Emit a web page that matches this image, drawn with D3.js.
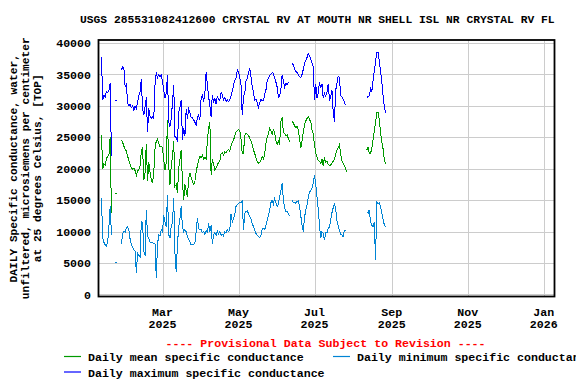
<!DOCTYPE html>
<html>
<head>
<meta charset="utf-8">
<script src="https://cdn.jsdelivr.net/npm/d3@7"></script>
<style>
  html, body { margin: 0; padding: 0; background: #fff; }
</style>
</head>
<body>
<div id="chart"></div>
<script>
// USGS daily specific conductance, Crystal River at mouth (provisional)

const TITLE = "USGS 285531082412600 CRYSTAL RV AT MOUTH NR SHELL ISL NR CRYSTAL RV FL";
const Y_LABEL = [
  "DAILY Specific conductance, water,",
  "unfiltered, microsiemens per centimeter",
  "at 25 degrees Celsius, [TOP]"
];
const Y_TICKS = [0, 5000, 10000, 15000, 20000, 25000, 30000, 35000, 40000];
const X_TICKS = ["2025-03-01", "2025-05-01", "2025-07-01", "2025-09-01", "2025-11-01", "2026-01-01"];
const X_DOMAIN = ["2025-01-08T15:00Z", "2026-01-09T15:00Z"];
const NOTE = "---- Provisional Data Subject to Revision ----";

// one value per day from START, null = no record
const START = "2025-01-11";

const MAX_SC = [
  37800, 31000, 31700, 31400, 32300, 32100, 32400, 33600, 22000, null,
  null, null, 30900, null, null, null, 35700, 36200, 36000, 33000,
  33400, 30500, 30000, 30300, 29700, 30000, 29300, 30000, 29600, 30600,
  31600, 32300, 34300, 29500, 28600, 29800, 31400, 25900, 29600, 28300,
  28000, 28300, 28000, 33500, 35300, 34500, 35000, 34600, 34900, 33800,
  32500, 31300, 32000, 34900, 27500, 26700, 28000, 30500, 33300, 25100,
  25000, 24300, 28900, 29800, 30900, 24600, 26500, 25200, 29500, 28000,
  29500, 29000, 28100, 28100, 27800, 27400, 27000, 28100, 28500, 27800,
  31200, 31800, 30600, 32000, 35400, 33400, 31500, 30000, 28300, 31800,
  30500, 31200, 30300, 31500, 31100, 30900, 32100, 31800, 30900, 31300,
  30700, 31000, 30700, 30900, 31600, 32300, 33300, 34000, 34400, 35700,
  35300, 34600, 33300, 28500, 31500, 32000, 33900, 34400, 35200, 36000,
  34700, 33000, 32200, 30900, 31100, 30500, 29800, 30500, 31000, 30800,
  30900, 31800, 32500, 33900, 34400, 34900, 35000, 35300, 35200, 34400,
  33800, 33000, 31400, 31600, 32500, 34900, 34000, 33000, 33600, 33400,
  33700, 33600, null, 36800, 36500, 35800, 35500, 35300, 35000, 34600,
  34500, 35000, 35800, 36800, 37200, 37700, 38300, 38000, 37500, 36800,
  36300, 30900, 33500, 31200, 32000, 33800, 32800, 33500, 31200, 32000,
  31500, 32200, 33500, 31000, 31400, 32500, 29000, 27500, 32500, 33500,
  34700, 34500, 31700, 31400, 31000, 30600, 30100, null, null, null,
  null, null, null, null, null, null, null, null, null, null,
  null, null, null, 31300, 31500, 31600, 32800, 32300, 34000, 35600,
  37000, 38500, 38500, 37200, 35500, 33800, 31700, 30000, 28800
];

const MEAN_SC = [
  25400, 20000, 20800, 20600, 21600, 22000, 22200, 25100, 13000, null,
  null, null, 16000, null, null, null, 24600, 24200, 23600, 23100,
  22800, 22000, 21300, 20700, 20200, 19900, 20100, 19700, 18900, 19600,
  19900, 20500, 22800, 23500, 18200, 19400, 24000, 18000, 21000, 19500,
  18300, 17700, 19500, 23300, 24400, 24700, 24000, 23500, 23600, 23300,
  21500, 19800, 21000, 27700, 20500, 17500, 20500, 22000, 24400, 17200,
  17500, 16100, 20000, 21500, 23000, 18000, 15000, 17500, 16500, 15500,
  18500, 19300, 18600, 18000, 17500, 18000, 19500, 20500, 21400, 22000,
  21700, 22200, 21500, 21800, 21600, 24500, 26500, 27500, 19000, 21500,
  20800, 19800, 20200, 20600, 21000, 21200, 22400, 22600, 22200, 22700,
  22500, 22900, 23100, 22800, 23600, 24200, 24500, 25300, 25800, 26000,
  26200, 26100, 24800, 22400, 22500, 25300, 25600, 25500, 25300, 24900,
  24400, 23800, 23000, 22400, 21800, 21100, 20900, 21000, 21400, 21900,
  21600, 22300, 24000, 25000, 25500, 26400, 26100, 25400, 26200, 25800,
  24500, 23900, 24400, 23800, 27500, 28200, 25800, 25600, 25300, 25400,
  24800, 24300, null, 27600, 27300, 26800, 26500, 26800, 26200, 24800,
  23300, 24500, 25800, 27000, 27600, 28000, 28300, 27800, 27500, 26200,
  25500, 23800, 22400, 21900, 21300, 21200, 20800, 21500, 20500, 21800,
  21000, 21200, 20700, 20500, 20600, 20900, 21200, 21500, 22300, 22900,
  23300, 23800, 22400, 21300, 20800, 20500, 20000, 19500, null, null,
  null, null, null, null, null, null, null, null, null, null,
  null, null, null, 23000, 23400, 22400, 22500, 23200, 24600, 26000,
  27300, 28900, 29000, 27800, 25700, 24300, 23200, 21600, 20800
];

const MIN_SC = [
  15300, 9000, 8300, 7900, 7700, 8400, 10800, 14000, 9500, null,
  null, null, 5100, null, null, null, 8000, 9700, 10000, 9900,
  10600, 10800, 10200, 8800, 8000, 7500, 7100, 6900, 3400, 6600,
  6200, 6000, 11600, 11400, 6800, 6200, 13500, 9300, 8900, 8300,
  8200, 8200, 8100, 8000, 2600, 8000, 9500, 9300, 10300, 10000,
  12600, 11500, 10700, 15900, 9500, 9000, 10800, 11500, 15300, 6500,
  3600, 8000, 10800, 12000, 14000, 10800, 10000, 10300, 10000, 9200,
  8700, 8400, 7900, 8000, 7900, 8200, 10000, 12100, 10500, 10300,
  10400, 9800, 10000, 9600, 10200, 9900, 11300, 10000, 11000, 8000,
  9500, 9900, 9400, 10100, 9600, 10000, 9400, 9600, 9300, 10000,
  9800, 10300, 10000, 10200, 12800, 11500, 12000, 12700, 14000, 14300,
  14500, 14700, 14600, 14800, 10300, 12900, 13200, 13300, 12900, 12400,
  12000, 11300, 10800, 10200, 9700, 9400, 9200, 9000, 9400, 10400,
  10500, 10300, 11000, 11800, 12600, 13400, 14600, 15000, 14400, 15200,
  14600, 14000, 14400, 15500, 16500, 17700, 15000, 13800, 13200, 13300,
  12800, 12500, null, 15000, 14600, 14700, 14500, 14800, 14900, 14000,
  12500, 11000, 10000, 12300, 13400, 14200, 15500, 16300, 16500, 16900,
  17800, 19000, 17500, 15500, 13500, 11000, 9000, 10000, 9700, 8600,
  9900, 9800, 10500, 10700, 11900, 13000, 13800, 14500, 13500, 11800,
  10900, 10200, 9600, 9500, 9200, 10200, 10100, null, null, null,
  null, null, null, null, null, null, null, null, null, null,
  null, null, null, 13200, 12900, 13500, 11500, 11000, 10800, 11600,
  5500, 14700, 14500, 14600, 14000, 13000, 12000, 11100, 10700
];

const SERIES = [
  { name: "Daily mean specific conductance",    values: MEAN_SC, color: "#009a00" },
  { name: "Daily minimum specific conductance", values: MIN_SC,  color: "#0084d4" },
  { name: "Daily maximum specific conductance", values: MAX_SC,  color: "#0000ff" }
];

/* ── Layout ── */
const totalW = 576, totalH = 384;
const plot = { left: 98.5, right: 554.5, top: 40, bottom: 296.5 };
const FONT = "'Liberation Mono', 'DejaVu Sans Mono', 'Courier New', monospace";
const FS = 11.6;

const svg = d3.select("#chart").append("svg")
  .attr("width", totalW).attr("height", totalH)
  .attr("font-family", FONT)
  .attr("font-weight", "bold")
  .style("display", "block");

const x = d3.scaleUtc()
  .domain(X_DOMAIN.map(d => new Date(d)))
  .range([plot.left, plot.right]);

const y = d3.scaleLinear()
  .domain([-320, 40480])
  .range([plot.bottom, plot.top]);

/* ── Title ── */
svg.append("text")
  .attr("x", 80).attr("y", 23)
  .attr("font-size", 11.3).attr("fill", "#000")
  .text(TITLE);

/* ── Grid ── */
const grid = svg.append("g").attr("stroke", "#cccccc").attr("stroke-width", 1)
  .attr("shape-rendering", "crispEdges");

grid.selectAll(".gy").data(Y_TICKS).join("line")
  .attr("x1", plot.left).attr("x2", plot.right)
  .attr("y1", d => Math.round(y(d)) + 0.5).attr("y2", d => Math.round(y(d)) + 0.5);

const xTickDates = X_TICKS.map(d => new Date(d + "T00:00Z"));
grid.selectAll(".gx").data(xTickDates).join("line")
  .attr("x1", d => Math.round(x(d)) + 0.5).attr("x2", d => Math.round(x(d)) + 0.5)
  .attr("y1", plot.top).attr("y2", plot.bottom);

/* ── Data lines ── */
const day0 = new Date(START + "T00:00Z");
const lineGen = d3.line()
  .defined(d => d.v != null)
  .x(d => x(d.date))
  .y(d => y(d.v));

const dataG = svg.append("g").attr("shape-rendering", "crispEdges");
SERIES.forEach(s => {
  const pts = s.values.map((v, i) => ({ date: d3.utcDay.offset(day0, i), v }));
  dataG.append("path")
    .datum(pts)
    .attr("fill", "none")
    .attr("stroke", s.color)
    .attr("stroke-width", 1)
    .attr("d", lineGen);

  // single days with no neighbours get a short dash
  const lonely = pts.filter((d, i) => d.v != null &&
    (i === 0 || pts[i - 1].v == null) && (i === pts.length - 1 || pts[i + 1].v == null));
  dataG.selectAll(null).data(lonely).join("line")
    .attr("x1", d => x(d.date) - 1).attr("x2", d => x(d.date) + 1)
    .attr("y1", d => y(d.v)).attr("y2", d => y(d.v))
    .attr("stroke", s.color).attr("stroke-width", 1);
});

/* ── Frame ── */
svg.append("rect")
  .attr("x", plot.left).attr("y", plot.top)
  .attr("width", plot.right - plot.left).attr("height", plot.bottom - plot.top)
  .attr("fill", "none").attr("stroke", "#000").attr("stroke-width", 1.8);

/* ── Y tick labels ── */
svg.append("g").selectAll("text").data(Y_TICKS).join("text")
  .attr("x", 91).attr("y", d => y(d))
  .attr("dy", "0.36em")
  .attr("text-anchor", "end")
  .attr("font-size", FS).attr("fill", "#000")
  .text(d => d);

/* ── X tick labels ── */
const xl = svg.append("g").selectAll("g").data(xTickDates).join("g")
  .attr("transform", d => `translate(${x(d)},0)`);
xl.append("text").attr("y", 315.5).attr("text-anchor", "middle")
  .attr("font-size", FS).text(d3.utcFormat("%b"));
xl.append("text").attr("y", 328).attr("text-anchor", "middle")
  .attr("font-size", FS).text(d3.utcFormat("%Y"));

/* ── Y axis title ── */
const midY = (plot.top + plot.bottom) / 2;
svg.append("g").selectAll("text").data(Y_LABEL).join("text")
  .attr("transform", (d, i) => `translate(${[16.5, 29, 41][i]},${midY}) rotate(-90)`)
  .attr("text-anchor", "middle")
  .attr("font-size", 11.2).attr("fill", "#000")
  .text(d => d);

/* ── Provisional note ── */
svg.append("text")
  .attr("x", (plot.left + plot.right) / 2 - 1).attr("y", 346.5)
  .attr("text-anchor", "middle")
  .attr("font-size", FS).attr("fill", "#ff0000")
  .text(NOTE);

/* ── Legend ── */
const LEGEND_POS = [[64, 356.5], [333, 356.5], [64, 372]];
SERIES.forEach((s, i) => {
  const [lx, ly] = LEGEND_POS[i];
  svg.append("line")
    .attr("x1", lx).attr("x2", lx + 17).attr("y1", ly).attr("y2", ly)
    .attr("stroke", s.color).attr("stroke-width", 1.2);
  svg.append("text")
    .attr("x", lx + 24).attr("y", ly + 4.5)
    .attr("font-size", FS).attr("fill", "#000")
    .text(s.name);
});
</script>
</body>
</html>
